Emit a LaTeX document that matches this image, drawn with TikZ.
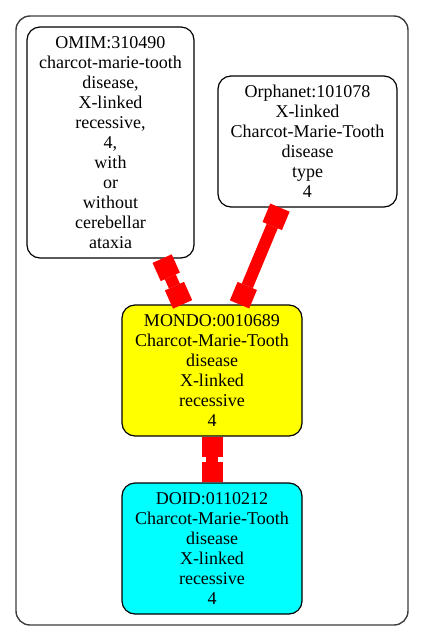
\documentclass[tikz,border=0pt]{standalone}
\usepackage{fontspec}
\setmainfont{Liberation Serif}
\newfontfamily\termfont{Liberation Serif}
\usetikzlibrary{arrows.meta}
\definecolor{tyellow}{RGB}{255,255,0}
\definecolor{tcyan}{RGB}{0,255,255}
\definecolor{tred}{RGB}{255,0,0}
\definecolor{tframe}{RGB}{60,60,60}
\begin{document}
\begin{tikzpicture}[x=1pt,y=-1pt,
  term/.style={draw=black,line width=1.2pt,rounded corners=13pt,align=center,
    font=\termfont\fontsize{18}{20}\selectfont,inner sep=0pt},
  tee/.style={draw=tred,line width=12pt,
    {Rectangle[length=20pt,width=21pt,line width=0pt]}-{Rectangle[length=20pt,width=21pt,line width=0pt]}}
]
\useasboundingbox (0,0) rectangle (424,641);
\draw[draw=tframe,line width=1.4pt,rounded corners=14pt] (16,16) rectangle (408,625);
\node[term,minimum width=167pt,minimum height=231pt] (omim) at (110.5,142.5)
  {OMIM:310490\\charcot-marie-tooth\\disease,\\X-linked\\recessive,\\4,\\with\\or\\without\\cerebellar\\ataxia};
\node[term,minimum width=179pt,minimum height=131pt] (orpha) at (307.5,141.5)
  {Orphanet:101078\\X-linked\\Charcot-Marie-Tooth\\disease\\type\\4};
\node[term,fill=tyellow,minimum width=180pt,minimum height=131pt] (mondo) at (212,370.5)
  {MONDO:0010689\\Charcot-Marie-Tooth\\disease\\X-linked\\recessive\\4};
\node[term,fill=tcyan,minimum width=180pt,minimum height=131pt] (doid) at (212,548.5)
  {DOID:0110212\\Charcot-Marie-Tooth\\disease\\X-linked\\recessive\\4};
\draw[tee] (omim) -- (mondo);
\draw[tee] (orpha) -- (mondo);
\draw[tee] (mondo) -- (doid);
\end{tikzpicture}
\end{document}
